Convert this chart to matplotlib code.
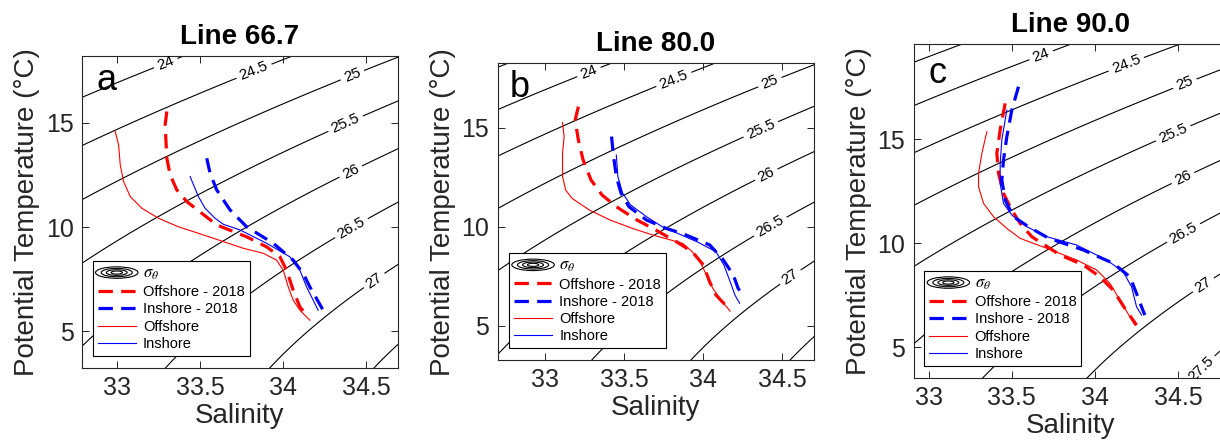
import numpy as np
import matplotlib
matplotlib.use("Agg")
import matplotlib.pyplot as plt
from matplotlib.legend_handler import HandlerBase
from matplotlib.patches import Ellipse

plt.rcParams['font.family'] = ['Liberation Sans', 'DejaVu Sans']
plt.rcParams['mathtext.fontset'] = 'stix'

# ---------------- data ----------------
titles = ["Line 66.7", "Line 80.0", "Line 90.0"]
panel_letters = ["a", "b", "c"]
sigma_levels = [23.0, 23.5, 24.0, 24.5, 25.0, 25.5, 26.0, 26.5, 27.0, 27.5, 28.0]
xticks = [33, 33.5, 34, 34.5]
yticks = [5, 10, 15]
legend_labels = [r"$\sigma_\theta$", "Offshore - 2018", "Inshore - 2018", "Offshore", "Inshore"]

# Panel a (Line 66.7)
a_off18_S = [33.30, 33.29, 33.30, 33.32, 33.36, 33.42, 33.51, 33.60, 33.78, 33.90, 33.98, 34.02, 34.06, 34.10, 34.15]
a_off18_T = [15.54, 14.90, 13.30, 12.50, 11.78, 11.22, 10.66, 10.10, 9.53, 9.05, 8.57, 7.93, 6.97, 6.17, 5.69]
a_in18_S = [33.54, 33.56, 33.60, 33.68, 33.78, 33.94, 34.06, 34.12, 34.16, 34.20, 34.24]
a_in18_T = [13.30, 12.58, 11.78, 10.82, 10.01, 9.22, 8.41, 7.77, 7.13, 6.57, 6.01]
a_off_S = [32.99, 33.01, 33.02, 33.04, 33.08, 33.15, 33.25, 33.37, 33.49, 33.61, 33.76, 33.88, 33.96, 34.00, 34.03, 34.06, 34.10, 34.16]
a_off_T = [14.58, 13.94, 12.98, 12.18, 11.46, 10.90, 10.42, 10.01, 9.70, 9.38, 8.98, 8.74, 8.41, 7.93, 7.13, 6.49, 6.01, 5.53]
a_in_S = [33.44, 33.49, 33.53, 33.59, 33.64, 33.74, 33.90, 34.04, 34.10, 34.14, 34.18, 34.21]
a_in_T = [12.42, 11.46, 10.90, 10.42, 10.13, 9.86, 9.22, 8.57, 7.93, 7.13, 6.49, 6.01]

# Panel b (Line 80.0)
b_off18_S = [33.21, 33.19, 33.21, 33.24, 33.29, 33.36, 33.45, 33.58, 33.70, 33.83, 33.93, 34.00, 34.04, 34.08, 34.17]
b_off18_T = [16.06, 15.39, 14.38, 13.37, 12.36, 11.60, 11.01, 10.34, 9.83, 9.24, 8.74, 8.07, 7.22, 6.55, 5.79]
b_in18_S = [33.42, 33.43, 33.45, 33.48, 33.53, 33.64, 33.77, 33.87, 34.04, 34.12, 34.19, 34.22, 34.25]
b_in18_T = [14.55, 13.71, 12.53, 11.69, 11.01, 10.34, 9.90, 9.65, 9.08, 8.40, 7.56, 6.89, 6.55]
b_off_S = [33.11, 33.12, 33.11, 33.11, 33.13, 33.17, 33.28, 33.41, 33.55, 33.68, 33.87, 33.93, 33.98, 34.02, 34.06, 34.12, 34.17]
b_off_T = [15.25, 14.55, 13.71, 12.53, 11.85, 11.43, 10.84, 10.34, 9.92, 9.58, 9.16, 8.74, 8.23, 7.56, 6.89, 6.21, 5.74]
b_in_S = [33.45, 33.46, 33.49, 33.54, 33.64, 33.74, 33.96, 34.08, 34.13, 34.17, 34.20, 34.23]
b_in_T = [13.62, 12.53, 11.69, 11.10, 10.51, 10.00, 9.24, 8.74, 8.07, 7.22, 6.55, 6.13]

# Panel c (Line 90.0)
c_off18_S = [33.46, 33.43, 33.41, 33.42, 33.45, 33.50, 33.55, 33.62, 33.79, 33.93, 34.03, 34.11, 34.18, 34.25]
c_off18_T = [16.73, 15.45, 14.33, 13.37, 12.40, 11.60, 10.96, 10.32, 9.44, 8.96, 8.39, 7.75, 6.87, 6.07]
c_in18_S = [33.54, 33.50, 33.47, 33.45, 33.44, 33.46, 33.51, 33.60, 33.72, 33.93, 34.11, 34.21, 34.25, 34.28, 34.30]
c_in18_T = [17.53, 16.41, 15.13, 14.00, 13.04, 12.08, 11.28, 10.80, 10.25, 9.68, 9.04, 8.39, 7.59, 6.95, 6.55]
c_off_S = [33.35, 33.32, 33.30, 33.30, 33.33, 33.39, 33.47, 33.55, 33.71, 33.89, 34.01, 34.09, 34.15, 34.21, 34.24]
c_off_T = [15.37, 14.33, 13.37, 12.72, 11.92, 11.28, 10.72, 10.24, 9.76, 9.20, 8.72, 8.08, 7.27, 6.47, 6.07]
c_in_S = [33.47, 33.44, 33.43, 33.43, 33.45, 33.50, 33.59, 33.71, 33.89, 34.07, 34.17, 34.22, 34.25, 34.28]
c_in_T = [16.41, 14.97, 13.85, 12.88, 11.92, 11.36, 10.80, 10.32, 9.92, 9.20, 8.63, 7.91, 6.95, 6.55]

# contour label positions (S, T)
a_lab = [(33.29, 17.93), (33.83, 17.36), (34.42, 17.2), (34.38, 14.86), (34.41, 12.6), (34.41, 9.95), (34.55, 7.4)]
b_lab = [(33.28, 17.75), (33.82, 17.32), (34.42, 17.32), (34.37, 14.8), (34.40, 12.6), (34.43, 9.92), (34.55, 7.47)]
c_lab = [(33.68, 18.97), (34.19, 18.57), (34.54, 17.69), (34.47, 15.29), (34.53, 13.13), (34.54, 10.4), (34.66, 7.91), (34.64, 3.95)]

panels = [
    dict(off18=(a_off18_S, a_off18_T), in18=(a_in18_S, a_in18_T), off=(a_off_S, a_off_T), ins=(a_in_S, a_in_T), lab=a_lab),
    dict(off18=(b_off18_S, b_off18_T), in18=(b_in18_S, b_in18_T), off=(b_off_S, b_off_T), ins=(b_in_S, b_in_T), lab=b_lab),
    dict(off18=(c_off18_S, c_off18_T), in18=(c_in18_S, c_in18_T), off=(c_off_S, c_off_T), ins=(c_in_S, c_in_T), lab=c_lab),
]

# ---------------- layout ----------------
W, H = 1220, 448
layout = [
    ((82, 56, 398, 368), (32.79, 34.69), (3.24, 18.2)),
    ((497.7, 63.3, 814, 360), (32.70, 34.70), (3.27, 18.25)),
    ((913.7, 44.3, 1228, 377.7), (32.91, 34.80), (3.54, 19.57)),
]
legend_px = [(92.7, 356), (509, 348.3), (924.3, 366)]
letter_px = [(97, 90), (510, 96.7), (928, 83.3)]


def sigma0(S, T):
    """UNESCO EOS-80 density anomaly at the sea surface."""
    rw = (999.842594 + 6.793952e-2 * T - 9.095290e-3 * T**2 + 1.001685e-4 * T**3
          - 1.120083e-6 * T**4 + 6.536332e-9 * T**5)
    A = 0.824493 - 4.0899e-3 * T + 7.6438e-5 * T**2 - 8.2467e-7 * T**3 + 5.3875e-9 * T**4
    B = -5.72466e-3 + 1.0227e-4 * T - 1.6546e-6 * T**2
    C = 4.8314e-4
    return rw + A * S + B * S**1.5 + C * S**2 - 1000.0


class ContourHandler(HandlerBase):
    def create_artists(self, legend, orig_handle, xdescent, ydescent, width, height, fontsize, trans):
        cx = width / 2 - xdescent
        cy = height / 2 - ydescent
        arts = []
        for f in [1.12, 0.82, 0.55, 0.3]:
            arts.append(Ellipse((cx, cy), width * f, height * 1.0 * f, fill=False,
                                lw=0.8, ec='k', transform=trans))
        return arts


fig = plt.figure(figsize=(W / 100, H / 100), dpi=100)
Sg, Tg = np.meshgrid(np.linspace(32.4, 35.2, 300), np.linspace(1.0, 22.0, 300))
SIG = sigma0(Sg, Tg)

gray = '#262626'
for i, (p, (box, xl, yl)) in enumerate(zip(panels, layout)):
    l, t, r, b = box
    ax = fig.add_axes([l / W, 1 - b / H, (r - l) / W, (b - t) / H])
    ax.set_xlim(*xl)
    ax.set_ylim(*yl)
    cs = ax.contour(Sg, Tg, SIG, levels=sigma_levels, colors='k', linewidths=0.8)
    ax.clabel(cs, fmt='%g', fontsize=11, inline=True, inline_spacing=4, manual=p['lab'])

    dash = (4.5, 2.6)
    l1, = ax.plot(*p['off18'], color='#ff0000', lw=2.3, dashes=dash)
    l2, = ax.plot(*p['in18'], color='#0000ff', lw=2.3, dashes=dash)
    l3, = ax.plot(*p['off'], color='#ff0000', lw=0.8)
    l4, = ax.plot(*p['ins'], color='#0000ff', lw=0.8)

    ax.set_xticks(xticks)
    ax.set_xticklabels([f"{v:g}" for v in xticks])
    ax.set_yticks(yticks)
    ax.tick_params(direction='in', length=5, width=0.7, top=True, right=True,
                   labelsize=18, colors=gray, pad=6)
    for sp in ax.spines.values():
        sp.set_color(gray)
        sp.set_linewidth(0.8)
    ax.set_xlabel("Salinity", fontsize=20, color=gray, labelpad=2)
    ax.set_ylabel("Potential Temperature (°C)", fontsize=20, color=gray, labelpad=4)
    ax.set_title(titles[i], fontsize=20, fontweight='bold', pad=9)

    lx, ly = letter_px[i]
    ax.text((lx - l) / (r - l), (b - ly) / (b - t), panel_letters[i], transform=ax.transAxes,
            fontsize=26, va='baseline', ha='left', color='k')

    proxy = Ellipse((0, 0), 1, 1)
    gx, gy = legend_px[i]
    leg = ax.legend([proxy, l1, l2, l3, l4], legend_labels,
                    handler_map={proxy: ContourHandler()},
                    loc='lower left', bbox_to_anchor=((gx - l) / (r - l), (b - gy) / (b - t)),
                    borderaxespad=0, fontsize=10.5, fancybox=False, framealpha=1,
                    edgecolor='k', handlelength=2.6, labelspacing=0.22, borderpad=0.35,
                    handletextpad=0.5)
    leg.get_frame().set_linewidth(0.8)
    leg.get_texts()[0].set_fontsize(12)

fig.savefig("out.png", dpi=100)
